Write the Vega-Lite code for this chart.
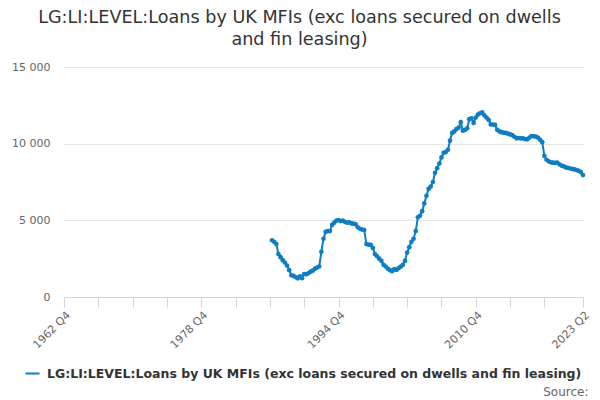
{
"$schema": "https://vega.github.io/schema/vega-lite/v6.json",
"width": 519, "height": 230,
"autosize": "none",
"padding": {"left": 64, "top": 67, "right": 17, "bottom": 103},
"config": {"font": "DejaVu Sans", "view": {"stroke": null}},
"title": {"text": ["LG:LI:LEVEL:Loans by UK MFIs (exc loans secured on dwells", "and fin leasing)"], "fontSize": 17.6, "fontWeight": "normal", "color": "#333333", "anchor": "middle", "frame": "group", "dx": -24, "offset": 12, "lineHeight": 22},
"data": {"values": [
{"t":1987.0,"v":3700},{"t":1987.25,"v":3600},{"t":1987.5,"v":3450},{"t":1987.75,"v":2800},
{"t":1988.0,"v":2600},{"t":1988.25,"v":2400},{"t":1988.5,"v":2250},{"t":1988.75,"v":2050},
{"t":1989.0,"v":1750},{"t":1989.25,"v":1420},{"t":1989.5,"v":1380},{"t":1989.75,"v":1300},
{"t":1990.0,"v":1220},{"t":1990.25,"v":1350},{"t":1990.5,"v":1230},{"t":1990.75,"v":1500},
{"t":1991.0,"v":1480},{"t":1991.25,"v":1560},{"t":1991.5,"v":1650},{"t":1991.75,"v":1720},
{"t":1992.0,"v":1850},{"t":1992.25,"v":1920},{"t":1992.5,"v":1990},{"t":1992.75,"v":2950},
{"t":1993.0,"v":3800},{"t":1993.25,"v":4250},{"t":1993.5,"v":4300},{"t":1993.75,"v":4300},
{"t":1994.0,"v":4700},{"t":1994.25,"v":4850},{"t":1994.5,"v":4980},{"t":1994.75,"v":5020},
{"t":1995.0,"v":4950},{"t":1995.25,"v":4980},{"t":1995.5,"v":4900},{"t":1995.75,"v":4850},
{"t":1996.0,"v":4870},{"t":1996.25,"v":4800},{"t":1996.5,"v":4780},{"t":1996.75,"v":4740},
{"t":1997.0,"v":4550},{"t":1997.25,"v":4450},{"t":1997.5,"v":4400},{"t":1997.75,"v":4370},
{"t":1998.0,"v":3450},{"t":1998.25,"v":3420},{"t":1998.5,"v":3400},{"t":1998.75,"v":3200},
{"t":1999.0,"v":2800},{"t":1999.25,"v":2650},{"t":1999.5,"v":2500},{"t":1999.75,"v":2350},
{"t":2000.0,"v":2100},{"t":2000.25,"v":1990},{"t":2000.5,"v":1850},{"t":2000.75,"v":1750},
{"t":2001.0,"v":1680},{"t":2001.25,"v":1820},{"t":2001.5,"v":1760},{"t":2001.75,"v":1880},
{"t":2002.0,"v":1980},{"t":2002.25,"v":2100},{"t":2002.5,"v":2350},{"t":2002.75,"v":2900},
{"t":2003.0,"v":3250},{"t":2003.25,"v":3600},{"t":2003.5,"v":3800},{"t":2003.75,"v":4300},
{"t":2004.0,"v":5200},{"t":2004.25,"v":5300},{"t":2004.5,"v":5600},{"t":2004.75,"v":6100},
{"t":2005.0,"v":6600},{"t":2005.25,"v":7050},{"t":2005.5,"v":7200},{"t":2005.75,"v":7500},
{"t":2006.0,"v":8100},{"t":2006.25,"v":8400},{"t":2006.5,"v":8700},{"t":2006.75,"v":9100},
{"t":2007.0,"v":9400},{"t":2007.25,"v":9450},{"t":2007.5,"v":9600},{"t":2007.75,"v":10200},
{"t":2008.0,"v":10700},{"t":2008.25,"v":10800},{"t":2008.5,"v":10950},{"t":2008.75,"v":11050},
{"t":2009.0,"v":11400},{"t":2009.25,"v":10850},{"t":2009.5,"v":10900},{"t":2009.75,"v":11000},
{"t":2010.0,"v":11600},{"t":2010.25,"v":11650},{"t":2010.5,"v":11350},{"t":2010.75,"v":11700},
{"t":2011.0,"v":11900},{"t":2011.25,"v":11980},{"t":2011.5,"v":12040},{"t":2011.75,"v":11850},
{"t":2012.0,"v":11700},{"t":2012.25,"v":11550},{"t":2012.5,"v":11250},{"t":2012.75,"v":11250},
{"t":2013.0,"v":11220},{"t":2013.25,"v":10900},{"t":2013.5,"v":10800},{"t":2013.75,"v":10750},
{"t":2014.0,"v":10720},{"t":2014.25,"v":10700},{"t":2014.5,"v":10650},{"t":2014.75,"v":10600},
{"t":2015.0,"v":10560},{"t":2015.25,"v":10450},{"t":2015.5,"v":10350},{"t":2015.75,"v":10370},
{"t":2016.0,"v":10340},{"t":2016.25,"v":10350},{"t":2016.5,"v":10300},{"t":2016.75,"v":10280},
{"t":2017.0,"v":10400},{"t":2017.25,"v":10500},{"t":2017.5,"v":10480},{"t":2017.75,"v":10460},
{"t":2018.0,"v":10400},{"t":2018.25,"v":10250},{"t":2018.5,"v":10100},{"t":2018.75,"v":9200},
{"t":2019.0,"v":8950},{"t":2019.25,"v":8850},{"t":2019.5,"v":8780},{"t":2019.75,"v":8760},
{"t":2020.0,"v":8750},{"t":2020.25,"v":8760},{"t":2020.5,"v":8650},{"t":2020.75,"v":8570},
{"t":2021.0,"v":8520},{"t":2021.25,"v":8450},{"t":2021.5,"v":8420},{"t":2021.75,"v":8380},
{"t":2022.0,"v":8350},{"t":2022.25,"v":8320},{"t":2022.5,"v":8280},{"t":2022.75,"v":8230},
{"t":2023.0,"v":8150},{"t":2023.25,"v":7950}
]},
"mark": {"type": "line", "strokeWidth": 2, "point": {"size": 22, "filled": true}},
"encoding": {
"x": {"field": "t", "type": "quantitative", "scale": {"domain": [1962.75, 2023.25], "nice": false, "zero": false},
 "axis": {"values": [1962.75,1966.75,1970.75,1974.75,1978.75,1982.75,1986.75,1990.75,1994.75,1998.75,2002.75,2006.75,2010.75,2014.75,2018.75,2023.25],
  "labelExpr": "(datum.value == 1962.75 || datum.value == 1978.75 || datum.value == 1994.75 || datum.value == 2010.75 || datum.value == 2023.25) ? floor(datum.value) + ' Q' + (round((datum.value - floor(datum.value)) * 4) + 1) : ''",
  "labelAngle": -45, "labelAlign": "right", "labelBaseline": "top", "labelFontSize": 11, "labelColor": "#666666", "labelOverlap": false, "labelPadding": 2,
  "domainColor": "#ccd6eb", "tickColor": "#ccd6eb", "tickSize": 10, "grid": false,
  "title": "Source:", "titleAnchor": "end", "titleAlign": "right", "titleX": 524, "titleY": 94, "titleBaseline": "middle", "titleFontSize": 12, "titleFontWeight": "normal", "titleColor": "#666666"}},
"y": {"field": "v", "type": "quantitative", "scale": {"domain": [0, 15000], "nice": false},
 "axis": {"values": [0, 5000, 10000, 15000], "labelExpr": "datum.value == 0 ? '0' : format(datum.value / 1000, 'd') + ' 000'", "labelFontSize": 11, "labelColor": "#666666", "labelPadding": 14, "domain": false, "ticks": false, "grid": true, "gridColor": "#e6e6e6", "title": null}},
"color": {"datum": "LG:LI:LEVEL:Loans by UK MFIs (exc loans secured on dwells and fin leasing)", "type": "nominal", "scale": {"range": ["#0f7dc2"]},
 "legend": {"title": null, "orient": "none", "legendX": -40, "legendY": 298, "labelFontSize": 12.5, "labelFontWeight": "bold", "labelColor": "#333333", "labelLimit": 700, "labelOffset": 6, "symbolType": "stroke", "symbolSize": 200, "symbolStrokeWidth": 2}}
}
}
